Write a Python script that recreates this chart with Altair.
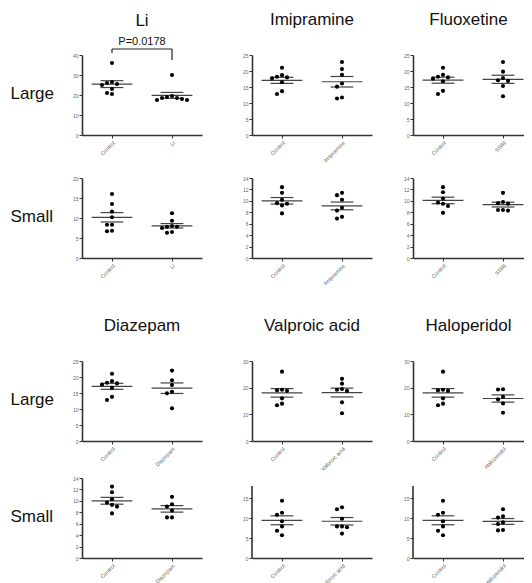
import json
import numpy as np
import pandas as pd
import altair as alt

# ---------------- data ----------------
drug_titles = ["Li", "Imipramine", "Fluoxetine", "Diazepam", "Valproic acid", "Haloperidol"]
treat_labels = ["Li", "Imipramine", "SSRI", "Diazepam", "Valproic acid", "Haloperidol"]
control_label = "Control"
row_labels = ["Large", "Small"]

li_large_control = [36, 26.5, 26, 25.5, 25, 23, 21, 20.5]
li_large_treat = [30, 19.5, 19, 18.5, 18.5, 18, 17.5, 17.5]
li_small_control = [16, 13.5, 11.6, 10.2, 8.3, 8.3, 6.8, 6.7]
li_small_treat = [11.2, 9.3, 8.0, 7.8, 7.8, 7.5, 6.5, 6.3]

imi_large_control = [21, 18.7, 18, 17.7, 18.2, 16.5, 13.7, 12.8]
imi_large_treat = [22.8, 20.6, 18.8, 16.1, 15.1, 11.4, 11.7]
imi_small_control = [12.4, 11.4, 10.2, 9.6, 9.2, 9.5, 7.8]
imi_small_treat = [11.4, 11.0, 10.2, 8.8, 8.3, 6.9, 7.2]

flx_large_control = [21, 18.8, 18, 17.6, 18.2, 16.8, 13.8, 12.8]
flx_large_treat = [22.8, 19.8, 17.8, 17.1, 16.9, 15.3, 12.1]
flx_small_control = [12.4, 11.5, 10.4, 9.5, 9.7, 9.1, 7.9]
flx_small_treat = [11.4, 9.6, 9.5, 9.8, 8.4, 8.3, 8.4]

dzp_large_control = [21, 18.7, 18, 17.6, 18.2, 16.6, 13.8, 12.8]
dzp_large_treat = [22, 19, 17.5, 15.4, 14.9, 10.2]
dzp_small_control = [12.5, 11.5, 10.3, 9.3, 9.7, 9.0, 7.8]
dzp_small_treat = [10.7, 9.4, 9.0, 8.3, 7.1, 7.1]

vpa_large_control = [26, 19, 18.8, 19.2, 16, 13.4, 14]
vpa_large_treat = [23.3, 21.5, 19.2, 18.8, 19.5, 14.5, 10.4]
vpa_small_control = [14.3, 11.3, 10.8, 9.2, 7.9, 6.8, 5.7]
vpa_small_treat = [12.7, 12.2, 9.8, 7.9, 7.7, 7.9, 6.1]

hal_large_control = [26, 19, 18.8, 19.2, 16, 13.4, 14]
hal_large_treat = [19.4, 19.3, 16.6, 15.6, 14.1, 10.6]
hal_small_control = [14.3, 11.3, 10.8, 9.2, 7.9, 6.8, 5.7]
hal_small_treat = [12.2, 10.1, 10.4, 8.9, 8.5, 6.9, 7.0]

# axis ranges / ticks per panel type
ticks_40 = [0, 10, 20, 30, 40]
ticks_20 = [0, 5, 10, 15, 20]
ticks_25 = [0, 5, 10, 15, 20, 25]
ticks_14 = [0, 2, 4, 6, 8, 10, 12, 14]
ticks_30 = [0, 10, 20, 30]
ticks_15 = [0, 5, 10, 15]

p_value_text = "P=0.0178"

# ---------------- styling ----------------
FONT = "Liberation Sans"
TXT = "#111111"
AX = "#333333"
LAB = "#666666"
H = 80
PX_PER_X = 60.0
COLW = [120, 120, 111]
COL3_XMAX = 1.35
GAPW = [50, 41]
ROWGAPS = [43, 103, 37]


def beeswarm(vals, ppu, diam=4.6, step=5.0):
    """Spread tied points sideways (Prism-like scatter dot plot)."""
    vals = np.asarray(vals, float)
    order = np.argsort(-vals, kind="stable")
    placed = []
    offs = np.zeros(len(vals))
    cands = [0.0]
    for k in range(1, 8):
        cands += [-k * step, k * step]
    for idx in order:
        yp = vals[idx] * ppu
        for c in cands:
            if all((c - px) ** 2 + (yp - py) ** 2 >= diam ** 2 for px, py in placed):
                offs[idx] = c
                placed.append((c, yp))
                break
    return offs


def panel(ctrl, trt, trt_label, ymax, ticks, width=120, xmax=1.5,
          title=None, title_offset=24, row_label=None, axis_top=None,
          bracket=False):
    ppu = H / ymax
    pts, stats = [], []
    for g, vals in enumerate([ctrl, trt]):
        offs = beeswarm(vals, ppu)
        for v, o in zip(vals, offs):
            pts.append({"x": g + o / PX_PER_X, "y": v})
        arr = np.asarray(vals, float)
        m = arr.mean()
        se = arr.std(ddof=1) / np.sqrt(len(arr))
        stats.append({"x": g - 0.34, "x2": g + 0.34, "y": m})
        stats.append({"x": g - 0.19, "x2": g + 0.19, "y": m + se})
        stats.append({"x": g - 0.19, "x2": g + 0.19, "y": m - se})
    pts = pd.DataFrame(pts)
    stats = pd.DataFrame(stats)

    cats = [control_label, trt_label]
    xscale = alt.Scale(domain=[-0.5, xmax], nice=False, zero=False)
    yscale = alt.Scale(domain=[0, ymax], nice=False, zero=True)
    xaxis = alt.Axis(values=[0, 1], labelExpr=json.dumps(cats) + "[datum.value]",
                     labelAngle=-45, labelFontSize=5.5, labelColor=LAB, labelFont=FONT,
                     labelPadding=2, tickSize=3, tickColor=AX, tickWidth=1,
                     domainColor=AX, domainWidth=1.6, grid=False, title=None)
    yargs = dict(values=ticks, labelFontSize=5, labelColor=LAB, labelFont=FONT,
                 labelPadding=1, tickSize=3, tickColor=AX, tickWidth=1,
                 domainColor=AX, domainWidth=1.6, grid=False,
                 domain=axis_top is None)
    if row_label:
        yargs.update(title=row_label, titleAngle=0, titleAlign="left",
                     titleBaseline="middle", titleX=-72, titleY=H / 2 - 2,
                     titleFontSize=17, titleFontWeight="normal", titleColor=TXT,
                     titleFont=FONT)
    else:
        yargs.update(title=None)
    yaxis = alt.Axis(**yargs)

    X = alt.X("x:Q", scale=xscale, axis=xaxis)
    Y = alt.Y("y:Q", scale=yscale, axis=yaxis)

    layers = [
        alt.Chart(stats).mark_rule(color="#444444", strokeWidth=1.2).encode(
            x=X, x2="x2:Q", y=Y),
        alt.Chart(pts).mark_circle(size=17, color="#000000", opacity=1).encode(x=X, y=Y),
    ]
    if axis_top is not None:
        ax = pd.DataFrame({"x": [-0.5], "y": [0], "y2": [axis_top]})
        layers.append(alt.Chart(ax).mark_rule(color=AX, strokeWidth=1.6).encode(
            x=X, y=Y, y2="y2:Q"))
    if bracket:
        br = pd.DataFrame({"x": [0, 0, 1], "x2": [1, 0, 1],
                           "y": [43, 43, 43], "y2": [43, 41, 37.5]})
        layers.append(alt.Chart(br).mark_rule(color="#222222", strokeWidth=1.2).encode(
            x=X, x2="x2:Q", y=Y, y2="y2:Q"))
        bt = pd.DataFrame({"x": [0.5], "y": [44.2], "t": [p_value_text]})
        layers.append(alt.Chart(bt).mark_text(fontSize=11, font=FONT, color=TXT,
                                              baseline="bottom", align="center").encode(
            x=X, y=Y, text="t:N"))
    ch = alt.layer(*layers).properties(width=width, height=H)
    if title:
        ch = ch.properties(title=alt.TitleParams(title, fontSize=17, fontWeight="normal",
                                                 color=TXT, font=FONT, offset=title_offset,
                                                 anchor="middle"))
    return ch


def spacer(w, h):
    return alt.Chart(pd.DataFrame({"a": [0]})).mark_point(opacity=0).encode(
        x=alt.value(0), y=alt.value(0)).properties(width=w, height=h)


def grid_row(p1, p2, p3):
    return [p1, spacer(GAPW[0], 1), p2, spacer(GAPW[1], 1), p3]


def gap_row(h):
    return [spacer(COLW[0], h), spacer(GAPW[0], h), spacer(COLW[1], h),
            spacer(GAPW[1], h), spacer(COLW[2], h)]


c3 = dict(width=COLW[2], xmax=COL3_XMAX)

top_large = grid_row(
    panel(li_large_control, li_large_treat, treat_labels[0], 40, ticks_40,
          title=drug_titles[0], title_offset=5.5, row_label=row_labels[0], bracket=True),
    panel(imi_large_control, imi_large_treat, treat_labels[1], 25, ticks_25,
          title=drug_titles[1]),
    panel(flx_large_control, flx_large_treat, treat_labels[2], 25, ticks_25,
          title=drug_titles[2], **c3),
)
top_small = grid_row(
    panel(li_small_control, li_small_treat, treat_labels[0], 20, ticks_20,
          row_label=row_labels[1]),
    panel(imi_small_control, imi_small_treat, treat_labels[1], 14, ticks_14),
    panel(flx_small_control, flx_small_treat, treat_labels[2], 14, ticks_14, **c3),
)
bot_large = grid_row(
    panel(dzp_large_control, dzp_large_treat, treat_labels[3], 25, ticks_25,
          title=drug_titles[3], row_label=row_labels[0]),
    panel(vpa_large_control, vpa_large_treat, treat_labels[4], 30, ticks_30,
          title=drug_titles[4]),
    panel(hal_large_control, hal_large_treat, treat_labels[5], 30, ticks_30,
          title=drug_titles[5], **c3),
)
bot_small = grid_row(
    panel(dzp_small_control, dzp_small_treat, treat_labels[3], 14, ticks_14,
          row_label=row_labels[1]),
    panel(vpa_small_control, vpa_small_treat, treat_labels[4], 20, ticks_15, axis_top=18),
    panel(hal_small_control, hal_small_treat, treat_labels[5], 20, ticks_15, axis_top=18,
          **c3),
)

cells = (top_large + gap_row(ROWGAPS[0]) + top_small + gap_row(ROWGAPS[1]) +
         bot_large + gap_row(ROWGAPS[2]) + bot_small)

chart = alt.concat(*cells, columns=5, spacing=0, bounds="flush", align="each").properties(
    padding={"left": 2, "top": 3, "right": 0, "bottom": 0},
    background="white",
).configure_view(stroke=None)

chart.save("out.html", embed_options={"renderer": "svg", "actions": False})
